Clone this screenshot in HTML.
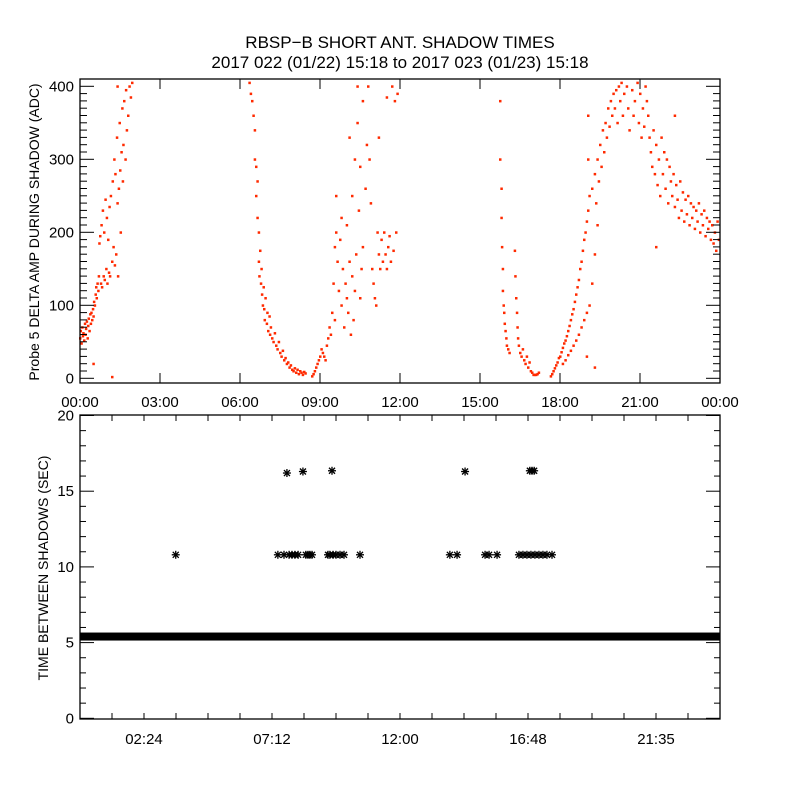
<!DOCTYPE html>
<html><head><meta charset="utf-8"><style>
html,body{margin:0;padding:0;background:#fff;}
svg text{font-family:"Liberation Sans",sans-serif;fill:#000;}
</style></head><body>
<svg id="chart" width="800" height="800" viewBox="0 0 800 800" xmlns="http://www.w3.org/2000/svg">
<rect width="800" height="800" fill="#fff"/>
<text x="400" y="48" font-size="17" text-anchor="middle">RBSP−B SHORT ANT. SHADOW TIMES</text>
<text x="400" y="68" font-size="17" text-anchor="middle">2017 022 (01/22) 15:18 to 2017 023 (01/23) 15:18</text>
<g id="topPanel"></g>
<g id="botPanel"></g>
<text transform="translate(39,232) rotate(-90)" font-size="14" text-anchor="middle">Probe 5 DELTA AMP DURING SHADOW (ADC)</text>
<text transform="translate(48,568) rotate(-90)" font-size="14" text-anchor="middle">TIME BETWEEN SHADOWS (SEC)</text>
</svg>
<script>
const topXTicks=["00:00","03:00","06:00","09:00","12:00","15:00","18:00","21:00","00:00"];
const topYTicks=[0,100,200,300,400];
const botXTicks=[[2.4,"02:24"],[7.2,"07:12"],[12,"12:00"],[16.8,"16:48"],[21.6,"21:35"]];
const botYTicks=[0,5,10,15,20];
const topSamples=[
[0.0,55],[0.02,65],[0.05,48],[0.08,70],[0.1,58],[0.12,62],[0.15,52],[0.18,75],[0.2,60],[0.22,68],[0.25,78],[0.28,55],[0.3,72],[0.32,82],[0.35,65],[0.38,88],[0.4,75],[0.42,90],[0.45,80],[0.48,95],[0.5,85],[0.52,105],[0.55,100],[0.58,115],[0.6,125],[0.62,110],[0.65,130],[0.68,120],[0.7,140],[0.72,185],[0.75,195],[0.78,130],[0.8,210],[0.82,125],[0.85,230],[0.88,140],[0.9,200],[0.92,135],[0.95,245],[0.98,150],[1.0,220],[1.02,130],[1.05,190],[1.08,145],[1.1,235],[1.12,140],[1.15,250],[1.2,160],[1.22,270],[1.25,180],[1.28,300],[1.3,155],[1.32,280],[1.35,170],[1.38,330],[1.4,240],[1.42,140],[1.45,260],[1.48,350],[1.5,285],[1.52,200],[1.55,310],[1.58,370],[1.6,270],[1.62,320],[1.65,380],[1.7,300],[1.72,395],[1.75,340],[1.8,360],[1.85,400],[1.9,385],[1.95,405],[0.5,20],[1.2,2],[1.4,400],
[6.35,405],[6.4,390],[6.45,380],[6.5,360],[6.55,340],[6.55,300],[6.6,290],[6.6,250],[6.65,220],[6.65,270],[6.7,200],[6.7,160],[6.72,140],[6.75,175],[6.78,130],[6.8,150],[6.82,115],[6.85,100],[6.88,125],[6.9,95],[6.92,80],[6.95,110],[7.0,75],[7.02,90],[7.05,65],[7.1,85],[7.12,60],[7.15,70],[7.2,55],[7.25,50],[7.3,62],[7.35,45],[7.4,40],[7.45,50],[7.5,35],[7.55,30],[7.6,38],[7.65,25],[7.7,28],[7.75,20],[7.8,22],[7.85,15],[7.9,18],[7.95,12],[8.0,10],[8.05,14],[8.1,8],[8.15,12],[8.2,6],[8.25,10],[8.3,8],[8.35,5],[8.4,9],[8.45,7],
[8.7,3],[8.75,6],[8.8,10],[8.85,15],[8.9,20],[8.95,25],[9.0,30],[9.05,40],[9.1,35],[9.15,30],[9.2,25],[9.25,45],[9.3,55],[9.35,70],[9.4,60],[9.45,90],[9.5,130],[9.55,80],[9.55,180],[9.6,200],[9.65,160],[9.7,120],[9.75,190],[9.8,100],[9.85,150],[9.9,70],[9.95,130],[10.0,110],[10.0,210],[10.05,90],[10.1,160],[10.15,60],[10.2,140],[10.2,250],[10.25,80],[10.3,120],[10.3,300],[10.35,170],[10.4,350],[10.4,400],[10.45,230],[10.5,290],[10.5,110],[10.55,150],[10.6,180],[10.6,380],[10.7,260],[10.75,320],[10.8,400],[10.85,300],[10.9,240],[10.95,150],[11.0,130],[11.05,110],[11.1,100],[11.15,200],[11.2,330],[11.2,170],[11.25,150],[11.3,190],[11.35,160],[11.4,200],[11.45,170],[11.5,150],[11.5,385],[11.55,180],[11.6,195],[11.65,160],[11.7,400],[11.75,175],[11.8,380],[11.85,200],[11.9,390],[9.8,220],[10.1,330],[9.6,250],
[15.75,380],[15.75,300],[15.8,260],[15.8,220],[15.82,180],[15.85,150],[15.85,120],[15.88,100],[15.9,90],[15.92,75],[15.95,65],[15.98,55],[16.0,45],[16.05,40],[16.1,35],[16.3,175],[16.32,140],[16.35,110],[16.38,90],[16.4,70],[16.42,55],[16.45,45],[16.5,35],[16.55,30],[16.6,40],[16.65,25],[16.7,20],[16.75,30],[16.8,15],[16.85,22],[16.9,10],[16.95,8],[17.0,5],[17.05,5],[17.1,5],[17.15,6],[17.2,8],
[17.65,3],[17.7,6],[17.75,10],[17.8,14],[17.85,18],[17.9,22],[17.95,28],[18.0,30],[18.05,36],[18.1,42],[18.15,48],[18.2,52],[18.25,58],[18.3,65],[18.35,72],[18.4,80],[18.45,88],[18.5,95],[18.55,105],[18.6,115],[18.65,125],[18.7,135],[18.75,150],[18.8,160],[18.85,175],[18.9,190],[18.95,200],[19.0,215],
[18.1,20],[18.2,25],[18.3,32],[18.4,38],[18.5,45],[18.6,52],[18.7,60],[18.8,70],[18.9,80],[19.0,90],[19.1,100],[19.2,130],[19.3,170],[19.4,210],
[19.05,230],[19.1,250],[19.05,300],[19.05,360],[19.2,260],[19.3,280],[19.35,240],[19.4,300],[19.45,270],[19.5,320],[19.55,290],[19.6,340],[19.65,310],[19.7,350],[19.75,330],[19.8,370],[19.85,345],[19.9,380],[19.95,360],[20.0,390],[20.05,370],[20.1,395],[20.15,350],[20.2,400],[20.25,380],[20.3,405],[20.35,360],[20.4,390],[20.5,400],[20.55,370],[20.6,340],[20.7,395],[20.75,360],[20.8,380],[20.9,405],[20.95,350],[21.0,390],[21.05,330],[21.1,370],[21.15,345],[21.2,400],[21.25,380],[21.3,360],[21.35,330],[21.4,310],[21.45,290],[21.5,340],[21.55,280],[21.6,320],[21.65,265],[21.7,300],[21.75,250],[21.8,330],[21.85,280],[21.9,310],[21.95,260],[22.0,300],[22.05,240],[22.1,290],[22.15,270],[22.2,250],[22.25,280],[22.3,235],[22.35,265],[22.4,245],[22.45,220],[22.5,270],[22.55,230],[22.6,255],[22.65,215],[22.7,245],[22.75,225],[22.8,250],[22.85,210],[22.9,240],[22.95,220],[23.0,235],[23.05,205],[23.1,230],[23.15,215],[23.2,240],[23.25,200],[23.3,225],[23.35,210],[23.4,230],[23.45,195],[23.5,220],[23.55,205],[23.6,215],[23.65,190],[23.7,210],[23.75,185],[23.8,200],[23.85,175],[23.9,215],[23.95,190],[21.6,180],[22.3,360],[19.0,30],[19.3,15]
];
const bandRanges=[[0,24]];
const bandValue=5.4;
const gap10Hours=[3.59,7.42,7.65,7.84,7.95,8.06,8.18,8.47,8.55,8.62,8.70,9.30,9.37,9.49,9.60,9.75,9.90,10.5,13.87,14.14,15.19,15.34,15.64,16.46,16.61,16.76,16.91,17.06,17.21,17.36,17.51,17.7];
const gap10Value=10.8;
const gap16Hours=[7.76,8.36,9.45,14.44,16.87,16.95,17.03];
const gap16Values=[16.2,16.3,16.35,16.3,16.35,16.35,16.35];

const NS="http://www.w3.org/2000/svg";
function mk(tag,attrs,parent){const e=document.createElementNS(NS,tag);for(const k in attrs)e.setAttribute(k,attrs[k]);parent.appendChild(e);return e;}
const L=80,R=720;
const xs=h=>L+h*(R-L)/24;
const tY0=378.3,tS=0.73;const ty=v=>tY0-v*tS;
const bY0=718.3,bS=15.14;const by=v=>bY0-v*bS;
const topG=document.getElementById('topPanel'),botG=document.getElementById('botPanel');

topSamples.forEach(p=>{const y=ty(p[1]);if(y<80)return;
 const r=mk('rect',{x:xs(p[0])-1,y:y-1,width:2.5,height:2.5,fill:'#ff2a00'},topG);
 
 });
let f=mk('rect',{x:L,y:79,width:R-L,height:304,fill:'none',stroke:'#000','stroke-width':1.3},topG);


for(let v=0;v<=400;v+=10){const y=ty(v);const len=v%100===0?14:7;
 mk('line',{x1:L,x2:L+len,y1:y,y2:y,stroke:'#000'},topG);mk('line',{x1:R,x2:R-len,y1:y,y2:y,stroke:'#000'},topG);}
topYTicks.forEach(v=>{const t=mk('text',{x:74,y:ty(v)+5,'font-size':15,'text-anchor':'end'},topG);t.textContent=v;
 
 });
topXTicks.forEach((s,i)=>{const x=xs(i*3);
 mk('line',{x1:x,x2:x,y1:79,y2:89,stroke:'#000'},topG);mk('line',{x1:x,x2:x,y1:383,y2:373,stroke:'#000'},topG);
 const t=mk('text',{x:x,y:407,'font-size':15,'text-anchor':'middle'},topG);t.textContent=s;
 
 });

bandRanges.forEach(r=>{const b=mk('rect',{x:xs(r[0]),y:by(bandValue)-4,width:xs(r[1])-xs(r[0]),height:8,fill:'#000'},botG);
 
 });
function star(h,v){const x=xs(h),y=by(v),s=4;const g=mk('g',{stroke:'#000','stroke-width':1.3},botG);
 
 
 mk('line',{x1:x-s,x2:x+s,y1:y,y2:y},g);mk('line',{x1:x,x2:x,y1:y-s,y2:y+s},g);
 mk('line',{x1:x-3,x2:x+3,y1:y-3,y2:y+3},g);mk('line',{x1:x-3,x2:x+3,y1:y+3,y2:y-3},g);}
gap10Hours.forEach(h=>star(h,gap10Value));
gap16Hours.forEach((h,i)=>star(h,gap16Values[i]));
f=mk('rect',{x:L,y:415,width:R-L,height:304,fill:'none',stroke:'#000','stroke-width':1.3},botG);


for(let v=0;v<=20;v++){const y=by(v);const len=v%5===0?14:6;
 mk('line',{x1:L,x2:L+len,y1:y,y2:y,stroke:'#000'},botG);mk('line',{x1:R,x2:R-len,y1:y,y2:y,stroke:'#000'},botG);}
botYTicks.forEach(v=>{const t=mk('text',{x:74,y:by(v)+5,'font-size':15,'text-anchor':'end'},botG);t.textContent=v;
 
 });
for(let h=1.2;h<24;h+=1.2){const x=xs(h);
 mk('line',{x1:x,x2:x,y1:415,y2:421,stroke:'#000'},botG);mk('line',{x1:x,x2:x,y1:719,y2:713,stroke:'#000'},botG);}
botXTicks.forEach(p=>{const t=mk('text',{x:xs(p[0]),y:744,'font-size':15,'text-anchor':'middle'},botG);t.textContent=p[1];
 
 });
</script>
</body></html>
